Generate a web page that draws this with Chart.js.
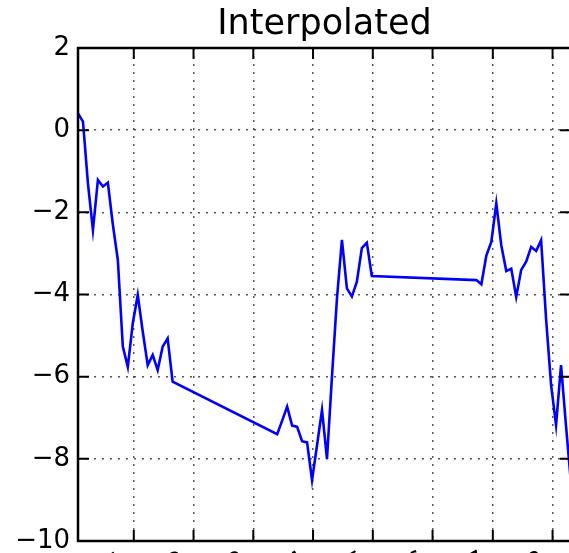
<!DOCTYPE html>
<html>
<head>
<meta charset="utf-8">
<script src="https://cdn.jsdelivr.net/npm/chart.js@4"></script>
<style>
html, body { margin: 0; padding: 0; overflow: hidden; background: #fff; }
canvas { display: block; }
</style>
</head>
<body>
<canvas id="c" width="574" height="600" style="width:574px;height:600px"></canvas>
<script>
// ---- data (monthly series, gaps = null, bridged by straight lines) ----
const seriesValues = [
  0.41, 0.21, -1.30, -2.43, -1.21, -1.37, -1.28, -2.30, -3.16, -5.27,
  -5.76, -4.70, -4.01, -4.90, -5.72, -5.47, -5.84, -5.27, -5.07, -6.12,
  null, null, null, null, null, null, null, null, null, null,
  null, null, null, null, null, null, null, null, null, null,
  -7.40, -7.07, -6.73, -7.19, -7.22, -7.57, -7.60, -8.52, -7.67, -6.81,
  -8.00, -6.00, -4.10, -2.67, -3.85, -4.05, -3.69, -2.87, -2.74, -3.55,
  null, null, null, null, null, null, null, null, null, null,
  null, null, null, null, null, null, null, null, null, null,
  -3.65, -3.75, -3.05, -2.72, -1.78, -2.80, -3.43, -3.37, -4.06, -3.40,
  -3.20, -2.84, -2.94, -2.68, -4.60, -6.20, -7.18, -5.72, -7.20, -8.60
];
const monthIndex = seriesValues.map((_, i) => i);

const yTicks = [-10, -8, -6, -4, -2, 0, 2];
const yTickLabels = ['\u221210', '\u22128', '\u22126', '\u22124', '\u22122', '0', '2'];

const xTickPos = [11.2, 23.2, 35.2, 47.2, 59.2, 71.2, 83.3, 95.3];
const xTickLabels = ['2001', '2002', '2003', '2004', '2005', '2006', '2007', '2008'];

const titleText = 'Interpolated';

// ---- drawing ----
const FONT = '"DejaVu Sans", "Liberation Sans", sans-serif';
const TICK_FS = 26;
const TL = 11;

const framePlugin = {
  id: 'framePlugin',
  afterDraw(chart) {
    const { ctx, chartArea: a, scales: { x, y } } = chart;
    ctx.save();
    ctx.strokeStyle = '#000';
    ctx.lineWidth = 2;
    ctx.setLineDash([]);
    ctx.beginPath();
    yTicks.forEach(v => {
      const py = y.getPixelForValue(v);
      ctx.moveTo(a.left, py); ctx.lineTo(a.left + TL, py);
      ctx.moveTo(a.right, py); ctx.lineTo(a.right - TL, py);
    });
    xTickPos.forEach(v => {
      const px = x.getPixelForValue(v);
      ctx.moveTo(px, a.bottom); ctx.lineTo(px, a.bottom - TL);
      ctx.moveTo(px, a.top); ctx.lineTo(px, a.top + TL);
    });
    ctx.stroke();
    ctx.lineWidth = 2.5;
    ctx.strokeRect(a.left, a.top, a.right - a.left, a.bottom - a.top);

    // rotated date labels (matplotlib autofmt style), mostly below the visible window
    ctx.font = TICK_FS + 'px ' + FONT;
    ctx.fillStyle = '#000';
    ctx.textAlign = 'right';
    ctx.textBaseline = 'top';
    const h = TICK_FS * 1.16;
    const ang = Math.PI / 6;
    xTickPos.forEach((v, i) => {
      const px = x.getPixelForValue(v);
      ctx.save();
      ctx.translate(px - h * Math.sin(ang), a.bottom + 6.5);
      ctx.rotate(-ang);
      ctx.fillText(xTickLabels[i], 0, 0);
      ctx.restore();
    });
    ctx.restore();
  }
};

new Chart(document.getElementById('c'), {
  type: 'line',
  data: {
    labels: monthIndex,
    datasets: [{
      data: seriesValues,
      borderColor: '#0000ff',
      borderWidth: 2.6,
      pointRadius: 0,
      pointHoverRadius: 0,
      tension: 0,
      spanGaps: true,
      fill: false
    }]
  },
  options: {
    responsive: false,
    animation: false,
    devicePixelRatio: 1,
    layout: { padding: { left: 0, right: 3, top: 0, bottom: 0 } },
    plugins: {
      legend: { display: false },
      tooltip: { enabled: false },
      title: {
        display: true,
        text: titleText,
        fullSize: false,
        color: '#000',
        font: { family: FONT, size: 35, weight: 'normal', lineHeight: 1.2 },
        padding: { top: 3.5, bottom: 2.5 }
      }
    },
    scales: {
      x: {
        type: 'linear',
        min: 0,
        max: 99,
        afterBuildTicks: s => { s.ticks = xTickPos.map(v => ({ value: v })); },
        afterFit: s => { s.height = 59; },
        ticks: { display: false },
        grid: { display: true, drawTicks: false, color: 'rgba(0,0,0,0.65)', lineWidth: 1.5 },
        border: { display: false, dash: [2, 6] }
      },
      y: {
        min: -10,
        max: 2,
        afterBuildTicks: s => { s.ticks = yTicks.map(v => ({ value: v })); },
        afterFit: s => { s.width = 78; },
        ticks: {
          color: '#000',
          padding: 8,
          font: { family: FONT, size: TICK_FS },
          callback: (v, i) => yTickLabels[i]
        },
        grid: { display: true, drawTicks: false, color: 'rgba(0,0,0,0.65)', lineWidth: 1.5 },
        border: { display: false, dash: [2, 6] }
      }
    }
  },
  plugins: [framePlugin]
});
</script>
</body>
</html>
